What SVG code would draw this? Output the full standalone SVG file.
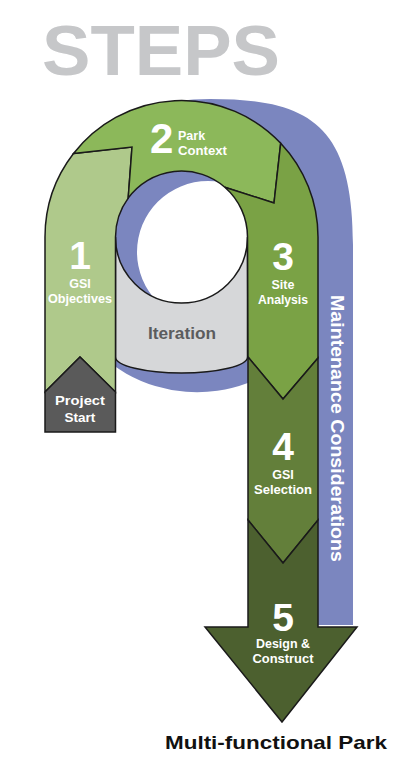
<svg xmlns="http://www.w3.org/2000/svg" width="400" height="782" viewBox="0 0 400 782">
<style>
.seg{stroke:#1a1a1a;stroke-width:1.5;stroke-linejoin:miter}
.t{font-family:"Liberation Sans",Arial,sans-serif;font-weight:bold;fill:#ffffff}
.num{font-size:39px;text-anchor:middle}
.lbl{font-size:12.5px;text-anchor:middle}
</style>
<rect width="400" height="782" fill="#ffffff"/>
<g id="title">
<text class="t" x="42" y="75" font-size="70" style="fill:#c6c7c9" textLength="238" lengthAdjust="spacingAndGlyphs">STEPS</text>
</g>
<g id="maintenance">
<path fill="#7b86bf" fill-rule="evenodd" d="M80,332 L60,250 C60,150 120,99 210,99 C310,99 353,125 353,245 L353,625 L318,625 L300,349 A144 144 0 0 1 80,332 Z M137,252 A71 71 0 1 0 279,252 A71 71 0 1 0 137,252 Z"/>
<text class="t" font-size="19" transform="translate(331,295) rotate(90)" textLength="267" lengthAdjust="spacingAndGlyphs">Maintenance Considerations</text>
</g>
<g id="iteration">
<path class="seg" fill="#d6d7d9" d="M115.5,237 L115.5,357 A66 16 0 0 0 247.5,357 L247.5,237 A66 66 0 0 1 115.5,237 Z"/>
<text class="t" x="182" y="339" font-size="16" text-anchor="middle" style="fill:#5b5c5e" textLength="68" lengthAdjust="spacingAndGlyphs">Iteration</text>
</g>
<g id="step1">
<path class="seg" fill="#afc98b" d="M45,392 L45,237 A136.5 136.5 0 0 1 73.5,153.5 L132,147 L128.2,198.1 A66 66 0 0 0 115.5,237 L115.5,392 L80,357 Z"/>
<text class="t num" x="80" y="269">1</text>
<text class="t lbl" x="80" y="288">GSI</text>
<text class="t lbl" x="80" y="303" textLength="64" lengthAdjust="spacingAndGlyphs">Objectives</text>
</g>
<g id="step2">
<path class="seg" fill="#8cb85a" d="M73.5,153.5 A136.5 136.5 0 0 1 280.7,143.2 L274,203 L224.8,187.2 A66 66 0 0 0 128.2,198.1 L132,147 Z"/>
<text class="t" x="150" y="153" font-size="42">2</text>
<text class="t" x="178" y="140" font-size="12.5">Park</text>
<text class="t" x="178" y="155" font-size="12.5" textLength="49" lengthAdjust="spacingAndGlyphs">Context</text>
</g>
<g id="step3">
<path class="seg" fill="#7aa245" d="M280.7,143.2 A136.5 136.5 0 0 1 318,237 L318,358 L283,399 L248,357 L247.5,237 A66 66 0 0 0 224.8,187.2 L274,203 Z"/>
<text class="t num" x="283" y="270">3</text>
<text class="t lbl" x="283" y="289">Site</text>
<text class="t lbl" x="283" y="304" textLength="50" lengthAdjust="spacingAndGlyphs">Analysis</text>
</g>
<g id="step4">
<path class="seg" fill="#637f3a" d="M248,357 L283,399 L318,358 L318,520 L283,563 L248,520 Z"/>
<text class="t num" x="283" y="460">4</text>
<text class="t lbl" x="283" y="479">GSI</text>
<text class="t lbl" x="283" y="494" textLength="58" lengthAdjust="spacingAndGlyphs">Selection</text>
</g>
<g id="step5">
<path class="seg" fill="#4c602f" d="M248,520 L283,563 L318,520 L318,627 L357,627 L282,722 L205,627 L248,627 Z"/>
<text class="t num" x="283" y="631" font-size="41">5</text>
<text class="t lbl" x="283" y="648" textLength="54" lengthAdjust="spacingAndGlyphs">Design &amp;</text>
<text class="t lbl" x="283" y="663" textLength="61" lengthAdjust="spacingAndGlyphs">Construct</text>
</g>
<g id="start">
<path class="seg" fill="#5a5a5a" d="M45,392 L80,357 L115.5,392 L115.5,432 L45,432 Z"/>
<text class="t" x="80" y="405" font-size="13.5" text-anchor="middle" textLength="50" lengthAdjust="spacingAndGlyphs">Project</text>
<text class="t" x="80" y="422" font-size="13.5" text-anchor="middle">Start</text>
</g>
<g id="result">
<text class="t" x="165" y="749" font-size="19" style="fill:#111111" textLength="222" lengthAdjust="spacingAndGlyphs">Multi-functional Park</text>
</g>
<g id="connectors"></g>
</svg>
